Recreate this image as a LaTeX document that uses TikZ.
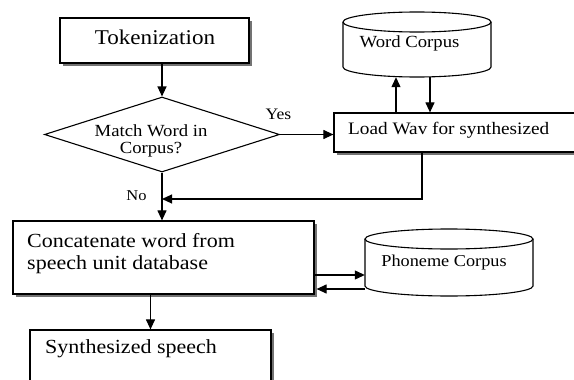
\documentclass[tikz,border=0pt]{standalone}
\usepackage{fontspec}
\setmainfont{Liberation Serif}[FakeStretch=1.1]
\usetikzlibrary{arrows.meta,shapes.geometric,shadows}
\tikzset{
  box/.style={draw, line width=1.2pt, fill=white, inner sep=0pt,
    drop shadow={shadow xshift=2.5pt, shadow yshift=-2.5pt, fill=black!55, opacity=1}},
  frame/.style={draw=none, inner sep=0pt},
  cyl/.style={line width=1.1pt},
  arr/.style={line width=1.1pt, -{Triangle[length=10pt,width=9pt]}},
  txt/.style={inner sep=0pt},
}
\newcommand{\fs}[1]{\fontsize{#1}{#1}\selectfont}
\begin{document}
\begin{tikzpicture}[x=1pt,y=-1pt]
\useasboundingbox (0,0) rectangle (574,380);
\clip (0,0) rectangle (574,380);

% boxes
\node[box, minimum width=189pt, minimum height=45pt] (tok) at (154.5,40.5) {};
\node[txt, anchor=base, font=\fs{21}] (toktxt) at (155,44.5) {Tokenization};

\node[diamond, draw, line width=1.1pt, minimum width=235pt, minimum height=75pt, inner sep=0pt] (dia) at (162,134.5) {};
\node[txt, align=center, font=\fs{17}, anchor=base] (diatxt) at (151,153) {Match Word in\\[0pt]Corpus?};

\node[box, minimum width=266pt, minimum height=39pt] (load) at (467,132.5) {};
\node[txt, anchor=base west, font=\fs{17.5}] (loadtxt) at (348,134) {Load Wav for synthesized};

\node[box, minimum width=301pt, minimum height=73pt] (concat) at (163.5,257.5) {};
\node[txt, anchor=base west, font=\fs{20}] (concat1) at (27,247) {Concatenate word from};
\node[txt, anchor=base west, font=\fs{20}] (concat2) at (27,269) {speech unit database};

\node[box, minimum width=241pt, minimum height=100pt] (synth) at (150.5,380) {};
\node[txt, anchor=base west, font=\fs{20}] (synthtxt) at (45,353) {Synthesized speech};

% Word Corpus cylinder
\node[frame, minimum width=148pt, minimum height=65pt] (wc) at (417,44.5) {};
\draw[cyl, fill=white] (343,22) -- (343,67) arc[start angle=180, end angle=360, x radius=74pt, y radius=10pt] -- (491,22);
\draw[cyl] (417,22) ellipse[x radius=74pt, y radius=10pt];
\node[txt, anchor=base, font=\fs{17}] (wctxt) at (409.5,48) {Word Corpus};

% Phoneme Corpus cylinder
\node[frame, minimum width=168pt, minimum height=67pt] (pc) at (449,262.5) {};
\draw[cyl, fill=white] (365,239) -- (365,286) arc[start angle=180, end angle=360, x radius=84pt, y radius=10pt] -- (533,239);
\draw[cyl] (449,239) ellipse[x radius=84pt, y radius=10pt];
\node[txt, anchor=base, font=\fs{16.6}] (pctxt) at (444,266) {Phoneme Corpus};

% labels
\node[txt, font=\fs{16}] (yes) at (278.5,114) {Yes};
\node[txt, font=\fs{15}] (no) at (136.5,196) {No};

% connectors
\draw[arr] (tok.south -| dia.north) -- (dia.north);
\draw[arr] (dia.east) -- (dia.east -| load.west);
\draw[arr] ([xshift=-21pt]wc.south |- load.north) -- ([xshift=-21pt]wc.south);
\draw[arr] ([xshift=13pt]wc.south) -- ([xshift=13pt]wc.south |- load.north);
\coordinate (merge) at (162,199);
\draw[arr] ([xshift=-45pt]load.south) |- (merge);
\draw[arr] (dia.south) -- (dia.south |- concat.north);
\draw[arr] ([yshift=-17.5pt]concat.east) -- ([yshift=-17.5pt]concat.east -| pc.west);
\draw[arr] ([yshift=-31.5pt]concat.east -| pc.west) -- ([yshift=-31.5pt,xshift=2pt]concat.east);
\draw[arr] (synth.north |- concat.south) -- (synth.north);
\end{tikzpicture}
\end{document}
